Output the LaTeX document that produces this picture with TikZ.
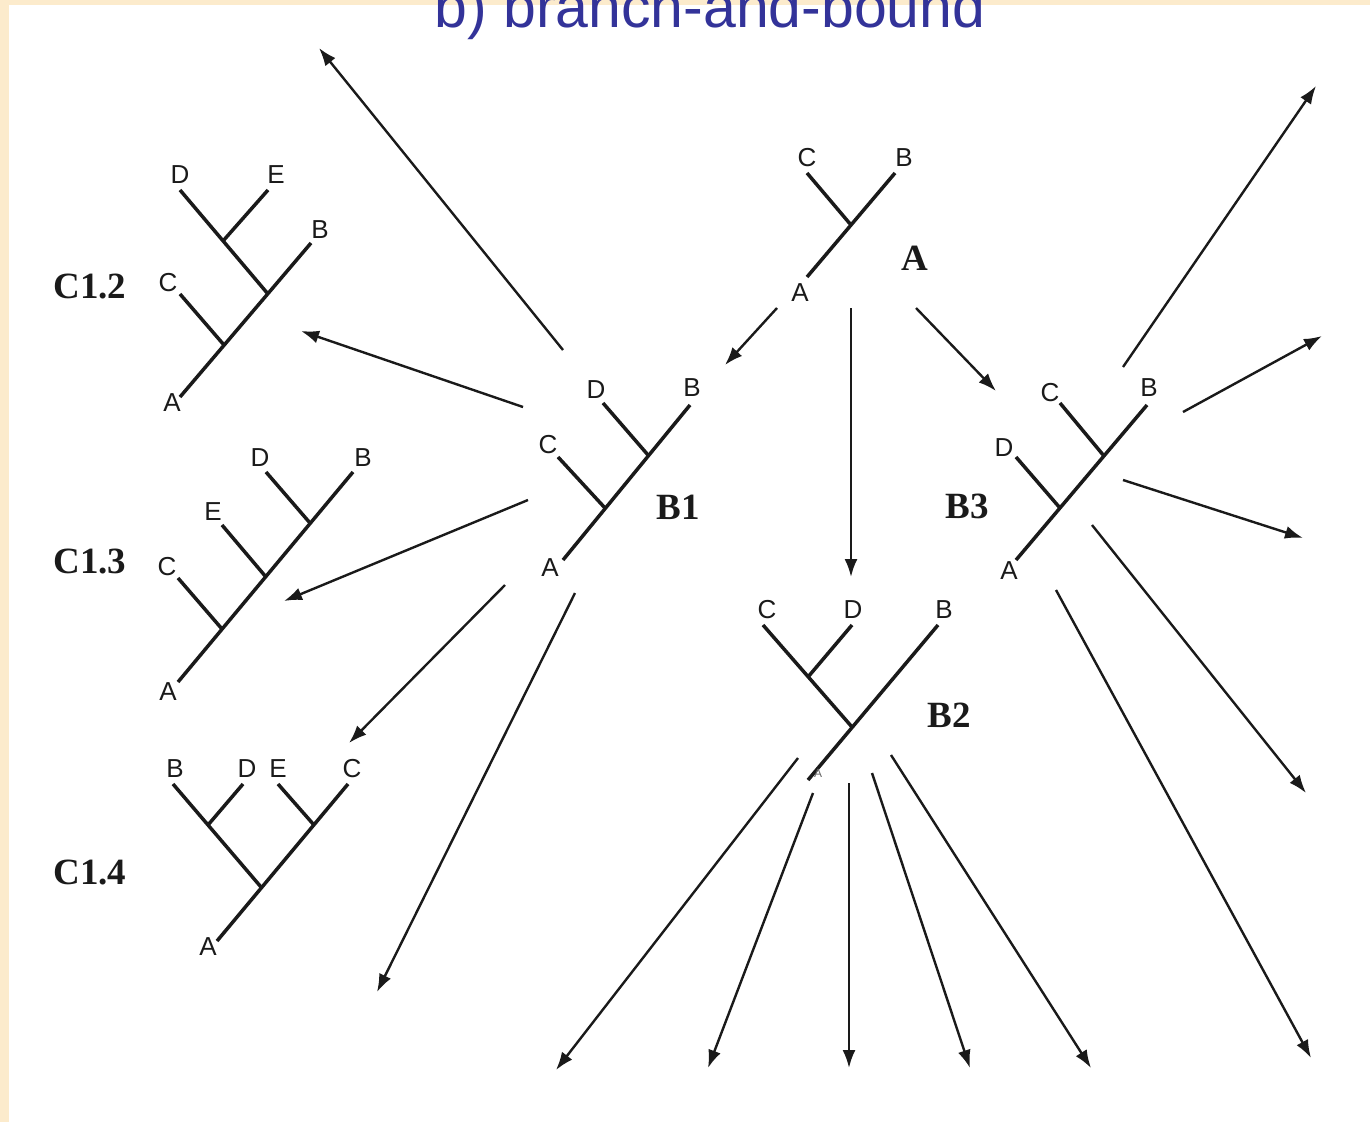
\documentclass[tikz,border=0pt]{standalone}
\usepackage{fontspec}
\setmainfont{Liberation Sans}
\newfontfamily\timesfont{Liberation Serif}
\usetikzlibrary{arrows.meta}
\definecolor{cream}{HTML}{FCEBCC}
\definecolor{titleblue}{HTML}{333399}
\definecolor{ink}{HTML}{1A1A1A}
\begin{document}
\begin{tikzpicture}[x=1pt,y=-1pt,
  tree/.style={line width=3.5pt, color=ink},
  arr/.style={line width=2.4pt, color=ink, -{Latex[length=18pt,width=13pt]}},
  lab/.style={font=\fontsize{26}{26}\selectfont, inner sep=0pt, text=ink},
  smalllab/.style={font=\fontsize{12}{12}\selectfont, inner sep=0pt, text=black!60},
  tname/.style={font=\timesfont\bfseries\fontsize{37}{37}\selectfont, inner sep=0pt, text=ink},
]
\useasboundingbox (0,0) rectangle (1370,1122);
\clip (0,0) rectangle (1370,1122);
\fill[cream] (0,0) rectangle (1370,1122);
\fill[white] (9,5) rectangle (1370,1122);

% title
\node[anchor=base, inner sep=0pt, text=titleblue, font=\fontsize{59}{59}\selectfont] (title) at (710,27) {b) branch-and-bound};

% ---------------- Tree A ----------------
\coordinate (aA) at (807,277); \coordinate (aJ) at (851,225);
\coordinate (aB) at (895,173); \coordinate (aC) at (807,173);
\draw[tree] (aA) -- (aB);
\draw[tree] (aC) -- (aJ);
\node[lab] (aCl) at (807,158) {C};
\node[lab] (aBl) at (904,158) {B};
\node[lab] (aAl) at (800,293) {A};
\node[tname] (treeA) at (915,258) {A};

% ---------------- Tree B1 ----------------
\coordinate (bA) at (563,560); \coordinate (bB) at (690,405);
\coordinate (bJ1) at (605,508); \coordinate (bJ2) at (648,455);
\coordinate (bC) at (558,457); \coordinate (bD) at (603,403);
\draw[tree] (bA) -- (bB);
\draw[tree] (bC) -- (bJ1);
\draw[tree] (bD) -- (bJ2);
\node[lab] (bDl) at (596,390) {D};
\node[lab] (bBl) at (692,388) {B};
\node[lab] (bCl) at (548,445) {C};
\node[lab] (bAl) at (550,568) {A};
\node[tname] (treeB1) at (678,507) {B1};

% ---------------- Tree C1.2 ----------------
\coordinate (cA) at (180,397); \coordinate (cB) at (311,243);
\coordinate (cJ1) at (224,345); \coordinate (cJ2) at (268,294);
\coordinate (cC) at (180,294); \coordinate (cD) at (180,190);
\coordinate (cE) at (268,190); \coordinate (cJ3) at (223,241);
\draw[tree] (cA) -- (cB);
\draw[tree] (cC) -- (cJ1);
\draw[tree] (cD) -- (cJ2);
\draw[tree] (cE) -- (cJ3);
\node[lab] (cDl) at (180,175) {D};
\node[lab] (cEl) at (276,175) {E};
\node[lab] (cBl) at (320,230) {B};
\node[lab] (cCl) at (168,283) {C};
\node[lab] (cAl) at (172,403) {A};
\node[tname] (treeC12) at (90,287) {C1.2};

% ---------------- Tree C1.3 ----------------
\coordinate (dA) at (178,682); \coordinate (dB) at (353,472);
\coordinate (dJ1) at (222,629); \coordinate (dJ2) at (266,577);
\coordinate (dJ3) at (310,523);
\coordinate (dC) at (178,578); \coordinate (dE) at (222,525);
\coordinate (dD) at (266,472);
\draw[tree] (dA) -- (dB);
\draw[tree] (dC) -- (dJ1);
\draw[tree] (dE) -- (dJ2);
\draw[tree] (dD) -- (dJ3);
\node[lab] (dDl) at (260,458) {D};
\node[lab] (dBl) at (363,458) {B};
\node[lab] (dEl) at (213,512) {E};
\node[lab] (dCl) at (167,567) {C};
\node[lab] (dAl) at (168,692) {A};
\node[tname] (treeC13) at (90,562) {C1.3};

% ---------------- Tree C1.4 ----------------
\coordinate (eA) at (217,941); \coordinate (eC) at (348,784);
\coordinate (eJ) at (261,887); \coordinate (eB) at (173,784);
\coordinate (eJ2) at (314,825); \coordinate (eE) at (278,784);
\coordinate (eJ1) at (208,825); \coordinate (eD) at (243,784);
\draw[tree] (eA) -- (eC);
\draw[tree] (eB) -- (eJ);
\draw[tree] (eD) -- (eJ1);
\draw[tree] (eE) -- (eJ2);
\node[lab] (eBl) at (175,769) {B};
\node[lab] (eDl) at (247,769) {D};
\node[lab] (eEl) at (278,769) {E};
\node[lab] (eCl) at (352,769) {C};
\node[lab] (eAl) at (208,947) {A};
\node[tname] (treeC14) at (90,872) {C1.4};

% ---------------- Tree B3 ----------------
\coordinate (fA) at (1016,560); \coordinate (fB) at (1147,405);
\coordinate (fJ1) at (1060,508); \coordinate (fJ2) at (1104,456);
\coordinate (fD) at (1016,457); \coordinate (fC) at (1060,403);
\draw[tree] (fA) -- (fB);
\draw[tree] (fD) -- (fJ1);
\draw[tree] (fC) -- (fJ2);
\node[lab] (fCl) at (1050,393) {C};
\node[lab] (fBl) at (1149,388) {B};
\node[lab] (fDl) at (1004,448) {D};
\node[lab] (fAl) at (1009,571) {A};
\node[tname] (treeB3) at (967,506) {B3};

% ---------------- Tree B2 ----------------
\coordinate (gA) at (808,780); \coordinate (gB) at (938,625);
\coordinate (gJ) at (852,727); \coordinate (gC) at (763,625);
\coordinate (gJ2) at (808,677); \coordinate (gD) at (852,625);
\draw[tree] (gA) -- (gB);
\draw[tree] (gC) -- (gJ);
\draw[tree] (gD) -- (gJ2);
\node[lab] (gCl) at (767,610) {C};
\node[lab] (gDl) at (853,610) {D};
\node[lab] (gBl) at (944,610) {B};
\node[smalllab] (gAl) at (818,773) {A};
\node[tname] (treeB2) at (949,715) {B2};

% ---------------- arrows from A ----------------
\coordinate (p1s) at (777,308); \coordinate (p1e) at (725,365);
\coordinate (p2s) at (851,308); \coordinate (p2e) at (851,577);
\coordinate (p3s) at (916,308); \coordinate (p3e) at (996,391);
\draw[arr] (p1s) -- (p1e);
\draw[arr] (p2s) -- (p2e);
\draw[arr] (p3s) -- (p3e);

% ---------------- arrows from B1 ----------------
\coordinate (q1s) at (563,350); \coordinate (q1e) at (319,48);
\coordinate (q2s) at (523,407); \coordinate (q2e) at (301,331);
\coordinate (q3s) at (528,500); \coordinate (q3e) at (284,601);
\coordinate (q4s) at (505,585); \coordinate (q4e) at (349,743);
\coordinate (q5s) at (575,593); \coordinate (q5e) at (377,992);
\draw[arr] (q1s) -- (q1e);
\draw[arr] (q2s) -- (q2e);
\draw[arr] (q3s) -- (q3e);
\draw[arr] (q4s) -- (q4e);
\draw[arr] (q5s) -- (q5e);

% ---------------- arrows from B3 ----------------
\coordinate (r1s) at (1123,367); \coordinate (r1e) at (1316,86);
\coordinate (r2s) at (1183,412); \coordinate (r2e) at (1322,336);
\coordinate (r3s) at (1123,480); \coordinate (r3e) at (1303,538);
\coordinate (r4s) at (1092,525); \coordinate (r4e) at (1306,793);
\coordinate (r5s) at (1056,590); \coordinate (r5e) at (1311,1058);
\draw[arr] (r1s) -- (r1e);
\draw[arr] (r2s) -- (r2e);
\draw[arr] (r3s) -- (r3e);
\draw[arr] (r4s) -- (r4e);
\draw[arr] (r5s) -- (r5e);

% ---------------- arrows from B2 ----------------
\coordinate (s1s) at (798,758); \coordinate (s1e) at (556,1070);
\coordinate (s2s) at (813,793); \coordinate (s2e) at (708,1068);
\coordinate (s3s) at (849,783); \coordinate (s3e) at (849,1068);
\coordinate (s4s) at (872,773); \coordinate (s4e) at (970,1068);
\coordinate (s5s) at (891,755); \coordinate (s5e) at (1091,1068);
\draw[arr] (s1s) -- (s1e);
\draw[arr] (s2s) -- (s2e);
\draw[arr] (s3s) -- (s3e);
\draw[arr] (s4s) -- (s4e);
\draw[arr] (s5s) -- (s5e);
\end{tikzpicture}
\end{document}
